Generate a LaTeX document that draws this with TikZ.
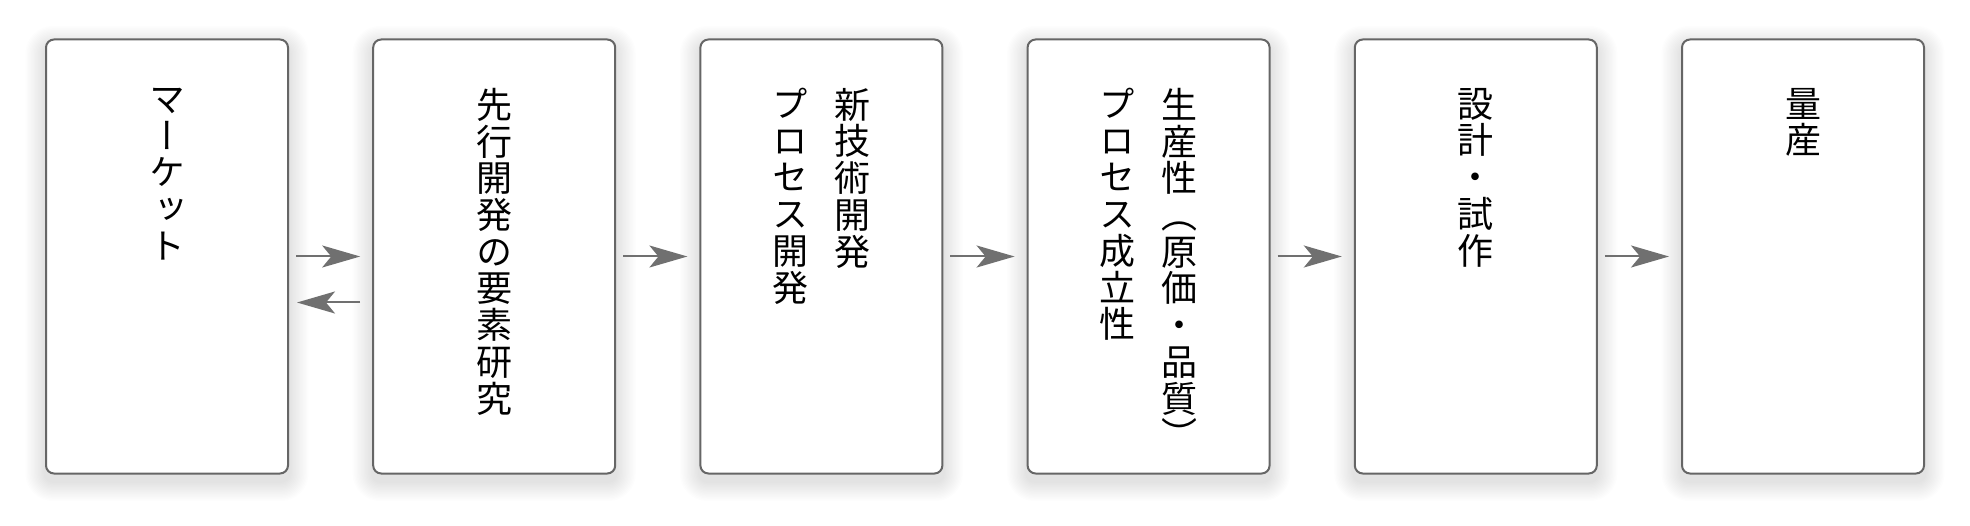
\documentclass[tikz,border=0pt]{standalone}
\usepackage{fontspec}
\newfontfamily\tatefont[RawFeature=+vert]{Noto Sans CJK JP}
\usetikzlibrary{arrows.meta,backgrounds}
\definecolor{boxgray}{HTML}{666666}
\definecolor{arrowgray}{HTML}{707070}

\begin{document}
\begin{tikzpicture}[x=1pt,y=-1pt,
  box/.style={draw=boxgray,line width=2pt,fill=white,rounded corners=8pt,minimum width=242pt,minimum height=434pt,inner sep=0pt},
  tate/.style={anchor=north,inner sep=0pt,align=center,font=\tatefont\fontsize{36}{36.7}\selectfont},
  flow/.style={draw=arrowgray,line width=2pt,-{Stealth[length=38pt,width=22pt,inset=9pt]}}]
\useasboundingbox (0,0) rectangle (1970,526);
% boxes
\draw (167,256.5) node[box](b1){};
\draw (494.2,256.5) node[box](b2){};
\draw (821.4,256.5) node[box](b3){};
\draw (1148.6,256.5) node[box](b4){};
\draw (1475.8,256.5) node[box](b5){};
\draw (1803,256.5) node[box](b6){};
% vertical texts
\draw (167,88) node[tate](t1){マ\\ー\\ケ\\ッ\\ト};
\draw (494.2,88) node[tate](t2){先\\行\\開\\発\\の\\要\\素\\研\\究};
\draw (852.4,88) node[tate](t3a){新\\技\\術\\開\\発};
\draw (790.4,88) node[tate](t3b){プ\\ロ\\セ\\ス\\開\\発};
\draw (1179.6,88) node[tate](t4a){生\\産\\性\\（\\原\\価\\・\\品\\質\\）};
\draw (1117.6,88) node[tate](t4b){プ\\ロ\\セ\\ス\\成\\立\\性};
\draw (1475.8,88) node[tate](t5){設\\計\\・\\試\\作};
\draw (1803,88) node[tate](t6){量\\産};
% arrows
\draw[flow] ([xshift=7pt]b1.east) -- ([xshift=-12pt]b2.west);
\draw[flow] ([xshift=-12pt,yshift=-46pt]b2.west) -- ([xshift=8pt,yshift=-46pt]b1.east);
\draw[flow] ([xshift=7pt]b2.east) -- ([xshift=-12pt]b3.west);
\draw[flow] ([xshift=7pt]b3.east) -- ([xshift=-12pt]b4.west);
\draw[flow] ([xshift=7pt]b4.east) -- ([xshift=-12pt]b5.west);
\draw[flow] ([xshift=7pt]b5.east) -- ([xshift=-12pt]b6.west);
% soft shadows
\begin{pgfonlayer}{background}
\fill[white] (0,0) rectangle (1970,526);
\foreach \n in {b1,b2,b3,b4,b5,b6}
  \foreach \k in {1,...,14}
    \fill[black,opacity=0.007,rounded corners=8pt+\k*1.4pt]
      ([xshift=-\k*1.4pt,yshift=-7pt-\k*1.4pt]\n.south west) rectangle ([xshift=\k*1.4pt,yshift=\k*1.4pt-7pt]\n.north east);
\end{pgfonlayer}
\end{tikzpicture}
\end{document}
